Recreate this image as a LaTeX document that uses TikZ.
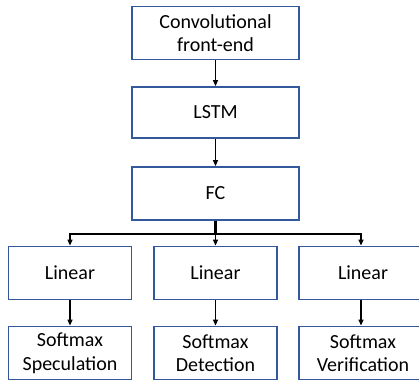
\documentclass[tikz,border=0pt]{standalone}
\usepackage{fontspec}
\setmainfont{Carlito}
\usetikzlibrary{arrows.meta}
\definecolor{boxblue}{RGB}{52,88,156}
\tikzset{
  blk/.style={draw=boxblue, line width=1.8pt, fill=white, minimum width=167pt, minimum height=53pt, inner sep=0pt, align=center, font=\fontsize{20}{23.5}\selectfont},
  sblk/.style={blk, minimum width=123pt, minimum height=53pt},
  arr/.style={-{Triangle[length=6pt,width=5pt]}, line width=1.3pt, black}
}
\begin{document}
\begin{tikzpicture}[x=1pt,y=-1pt]
\clip (0,0) rectangle (419,382);
\useasboundingbox (0,0) rectangle (419,382);
\node[blk] (conv) at (215.5,33) {Convolutional\\front-end};
\node[blk, minimum height=51pt] (lstm) at (215.5,112.5) {LSTM};
\node[blk] (fc) at (215.5,193.5) {FC};
\node[sblk] (lin1) at (70,273) {Linear};
\node[sblk] (lin2) at (215.5,273) {Linear};
\node[sblk, minimum width=128pt] (lin3) at (363,273) {Linear};
\node[sblk] (sm1) at (70,353) {Softmax\\Speculation};
\node[sblk] (sm2) at (215.5,353) {Softmax\\Detection};
\node[sblk, minimum width=128pt] (sm3) at (363,353) {Softmax\\Verification};
\draw[arr] (conv) -- (lstm);
\draw[arr] (lstm) -- (fc);
\draw[line width=2.4pt] (fc.south) -- ++(0,13) coordinate (br);
\draw[arr] (br) -| (lin1.north);
\draw[arr] (br) -- (lin2.north);
\draw[arr] (br) -| ([xshift=-2pt]lin3.north);
\draw[arr] (lin1) -- (sm1);
\draw[arr] (lin2) -- (sm2);
\draw[arr] ([xshift=-2pt]lin3.south) -- ([xshift=-2pt]sm3.north);
\end{tikzpicture}
\end{document}
